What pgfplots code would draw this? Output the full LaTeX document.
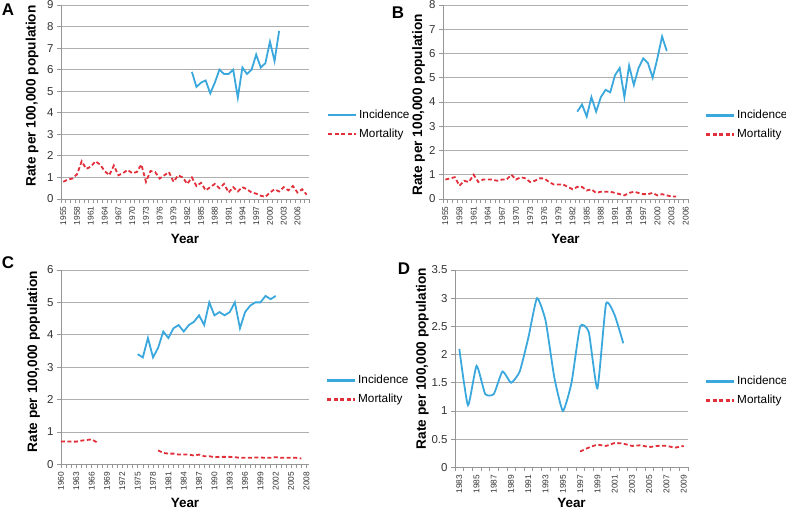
\documentclass[border=0pt]{standalone}
\usepackage{pgfplots}
\pgfplotsset{compat=1.18}
\usepackage{fontspec}
\setmainfont{Liberation Sans}

\definecolor{incc}{RGB}{59,168,221}
\definecolor{mortc}{RGB}{226,48,58}
\definecolor{gridc}{RGB}{175,175,175}
\definecolor{axc}{RGB}{150,150,150}

\tikzset{
  incl/.style={draw=incc, line width=1.8bp, mark=none},
  mortl/.style={draw=mortc, line width=1.8bp, dash pattern=on 4bp off 2.5bp, mark=none},
  letter/.style={font=\bfseries\fontsize{17}{18}\selectfont, anchor=center},
}

\pgfplotsset{
  panel/.style={
    scale only axis,
    axis x line*=bottom, axis y line*=left,
    axis line style={draw=axc, line width=0.8bp, -},
    ymajorgrids, major grid style={draw=gridc, line width=0.8bp},
    tick align=outside,
    major tick length=4bp, minor tick length=4bp,
    major x tick style={draw=none},
    minor x tick style={draw=axc, line width=0.5bp},
    major y tick style={draw=axc, line width=0.8bp},
    scaled x ticks=false,
    /pgf/number format/1000 sep={},
    /pgf/number format/assume math mode=true,
    x tick label style={rotate=90, anchor=east, font=\fontsize{8.4}{9}\selectfont, text=black!80},
    y tick label style={font=\fontsize{11.5}{12}\selectfont, text=black!80},
    xlabel style={font=\bfseries\fontsize{13.5}{14}\selectfont, anchor=center},
    ylabel style={font=\bfseries\fontsize{13.7}{14}\selectfont, anchor=center},
    xlabel={Year}, ylabel={Rate per 100,000 population},
    legend style={draw=none, fill=none, anchor=west, inner sep=0pt,
      font=\fontsize{11.8}{12}\selectfont,
      nodes={inner sep=0pt, text height=9bp, text depth=2.5bp},
      row sep=7.5bp},
    legend cell align=left,
    legend image code/.code={%
      \draw[##1, line width=2.2bp] (0bp,0bp) -- (28bp,0bp);
      \path (30bp,0bp);},
    unbounded coords=jump,
  },
}

\begin{document}
\begin{tikzpicture}
\useasboundingbox (0,0) rectangle (786bp,511bp);

% ---------- A ----------
\begin{axis}[panel, at={(61bp,312bp)}, anchor=south west, width=248bp, height=194bp,
  xmin=1954.5, xmax=2008.5, ymin=0, ymax=9, ytick={0,1,...,9},
  xtick={1955,1958,...,2006}, minor xtick={1954.5,1955.5,...,2008.5},
  xlabel style={at={(axis description cs:0.5,-0.205)}},
  ylabel style={at={(axis description cs:-0.117,0.531)}},
  legend style={at={(axis description cs:1,0.384)}, xshift=18bp}]
\addplot[incl] coordinates {
(1983,5.9)(1984,5.2)(1985,5.4)(1986,5.5)(1987,4.9)(1988,5.4)(1989,6.0)(1990,5.8)
(1991,5.8)(1992,6.0)(1993,4.7)(1994,6.1)(1995,5.8)(1996,6.0)(1997,6.7)(1998,6.1)
(1999,6.3)(2000,7.3)(2001,6.4)(2002,7.8)};
\addlegendentry{Incidence}
\addplot[mortl] coordinates {
(1955,0.8)(1956,0.9)(1957,0.95)(1958,1.15)(1959,1.75)(1960,1.4)(1961,1.5)(1962,1.75)
(1963,1.6)(1964,1.3)(1965,1.1)(1966,1.55)(1967,1.1)(1968,1.2)(1969,1.35)(1970,1.2)
(1971,1.25)(1972,1.6)(1973,0.8)(1974,1.3)(1975,1.25)(1976,0.95)(1977,1.1)(1978,1.25)
(1979,0.8)(1980,1.1)(1981,1.0)(1982,0.7)(1983,1.0)(1984,0.6)(1985,0.75)(1986,0.4)
(1987,0.55)(1988,0.7)(1989,0.5)(1990,0.7)(1991,0.3)(1992,0.55)(1993,0.35)(1994,0.55)
(1995,0.45)(1996,0.3)(1997,0.25)(1998,0.15)(1999,0.1)(2000,0.3)(2001,0.45)(2002,0.35)
(2003,0.55)(2004,0.4)(2005,0.6)(2006,0.3)(2007,0.45)(2008,0.2)};
\addlegendentry{Mortality}
\end{axis}

% ---------- B ----------
\begin{axis}[panel, at={(443bp,312bp)}, anchor=south west, width=245bp, height=194bp,
  xmin=1954.5, xmax=2006.5, ymin=0, ymax=8, ytick={0,1,...,8},
  xtick={1955,1958,...,2006}, minor xtick={1954.5,1955.5,...,2006.5},
  xlabel style={at={(axis description cs:0.5,-0.205)}},
  ylabel style={at={(axis description cs:-0.1,0.485)}},
  legend style={at={(axis description cs:1,0.381)}, xshift=17bp}]
\addplot[incl] coordinates {
(1983,3.6)(1984,3.9)(1985,3.4)(1986,4.2)(1987,3.6)(1988,4.2)(1989,4.5)(1990,4.4)
(1991,5.1)(1992,5.4)(1993,4.2)(1994,5.5)(1995,4.7)(1996,5.4)(1997,5.8)(1998,5.6)
(1999,5.0)(2000,5.8)(2001,6.7)(2002,6.1)};
\addlegendentry{Incidence}
\addplot[mortl] coordinates {
(1955,0.8)(1956,0.85)(1957,0.9)(1958,0.55)(1959,0.75)(1960,0.7)(1961,1.0)(1962,0.7)
(1963,0.8)(1964,0.8)(1965,0.8)(1966,0.75)(1967,0.8)(1968,0.8)(1969,1.0)(1970,0.8)
(1971,0.9)(1972,0.85)(1973,0.7)(1974,0.75)(1975,0.85)(1976,0.85)(1977,0.7)(1978,0.6)
(1979,0.6)(1980,0.6)(1981,0.5)(1982,0.4)(1983,0.5)(1984,0.5)(1985,0.35)(1986,0.4)
(1987,0.25)(1988,0.3)(1989,0.3)(1990,0.3)(1991,0.25)(1992,0.2)(1993,0.15)(1994,0.25)
(1995,0.3)(1996,0.25)(1997,0.2)(1998,0.2)(1999,0.25)(2000,0.15)(2001,0.2)(2002,0.15)
(2003,0.1)(2004,0.1)};
\addlegendentry{Mortality}
\end{axis}

% ---------- C ----------
\begin{axis}[panel, at={(61bp,46.7bp)}, anchor=south west, width=248bp, height=194.3bp,
  xmin=1960, xmax=2008.5, ymin=0, ymax=6, ytick={0,1,...,6},
  xtick={1960,1963,...,2008}, minor xtick={1960,1961,...,2008},
  xlabel style={at={(axis description cs:0.5,-0.199)}},
  ylabel style={at={(axis description cs:-0.11,0.528)}},
  legend style={at={(axis description cs:1,0.382)}, xshift=17bp}]
\addplot[incl] coordinates {
(1975,3.4)(1976,3.3)(1977,3.9)(1978,3.3)(1979,3.6)(1980,4.1)(1981,3.9)(1982,4.2)
(1983,4.3)(1984,4.1)(1985,4.3)(1986,4.4)(1987,4.6)(1988,4.3)(1989,5.0)(1990,4.6)
(1991,4.7)(1992,4.6)(1993,4.7)(1994,5.0)(1995,4.2)(1996,4.7)(1997,4.9)(1998,5.0)
(1999,5.0)(2000,5.2)(2001,5.1)(2002,5.2)};
\addlegendentry{Incidence}
\addplot[mortl] coordinates {
(1960,0.7)(1961,0.71)(1962,0.7)(1963,0.7)(1964,0.73)(1965,0.75)(1966,0.77)(1967,0.68)
(1968,nan)
(1979,0.43)(1980,0.35)(1981,0.33)(1982,0.33)(1983,0.3)(1984,0.3)(1985,0.3)(1986,0.27)
(1987,0.3)(1988,0.25)(1989,0.25)(1990,0.22)(1991,0.23)(1992,0.23)(1993,0.23)(1994,0.22)
(1995,0.2)(1996,0.2)(1997,0.2)(1998,0.21)(1999,0.21)(2000,0.2)(2001,0.2)(2002,0.22)
(2003,0.2)(2004,0.2)(2005,0.2)(2006,0.2)(2007,0.18)};
\addlegendentry{Mortality}
\end{axis}

% ---------- D ----------
\begin{axis}[panel, at={(455bp,43.7bp)}, anchor=south west, width=233bp, height=197.3bp,
  xmin=1982.5, xmax=2009.5, ymin=0, ymax=3.5, ytick={0,0.5,...,3.5},
  xtick={1983,1985,...,2009}, minor xtick={1982.5,1983.5,...,2009.5},
  xlabel style={at={(axis description cs:0.5,-0.181)}},
  ylabel style={at={(axis description cs:-0.14,0.551)}},
  legend style={at={(axis description cs:1,0.387)}, xshift=17bp}]
\addplot[incl, smooth, tension=0.3] coordinates {
(1983,2.1)(1984,1.1)(1985,1.8)(1986,1.3)(1987,1.3)(1988,1.7)(1989,1.5)(1990,1.7)
(1991,2.3)(1992,3.0)(1993,2.6)(1994,1.6)(1995,1.0)(1996,1.5)(1997,2.5)(1998,2.4)
(1999,1.4)(2000,2.9)(2001,2.7)(2002,2.2)};
\addlegendentry{Incidence}
\addplot[mortl, smooth, tension=0.3] coordinates {
(1997,0.28)(1998,0.35)(1999,0.4)(2000,0.38)(2001,0.43)(2002,0.42)(2003,0.38)(2004,0.39)
(2005,0.36)(2006,0.38)(2007,0.38)(2008,0.35)(2009,0.38)};
\addlegendentry{Mortality}
\end{axis}

\node[letter] at (8bp,501bp) {A};
\node[letter] at (398bp,498bp) {B};
\node[letter] at (8bp,248bp) {C};
\node[letter] at (404bp,242bp) {D};
\end{tikzpicture}
\end{document}
